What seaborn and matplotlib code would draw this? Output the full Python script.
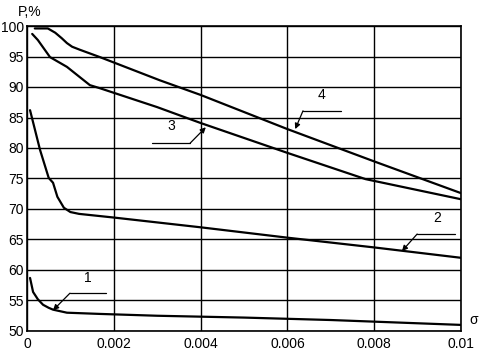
import matplotlib
matplotlib.use("Agg")
import matplotlib.pyplot as plt
import seaborn as sns
import pandas as pd

sns.set_theme(style="white")
plt.rcParams['font.family'] = ['Liberation Sans', 'DejaVu Sans']

# curve data (sigma, P%)
x1 = [0.00007, 0.00014, 0.00025, 0.00037, 0.0005, 0.0006, 0.00092, 0.00168, 0.003, 0.005, 0.007, 0.0085, 0.01]
y1 = [58.7, 56.4, 55.2, 54.3, 53.8, 53.5, 53.0, 52.8, 52.5, 52.2, 51.8, 51.4, 51.0]

x2 = [0.00007, 0.0003, 0.0005, 0.0006, 0.0007, 0.00085, 0.001, 0.0012, 0.002, 0.004, 0.006, 0.008, 0.01]
y2 = [86.2, 79.7, 75.1, 74.3, 72.0, 70.2, 69.5, 69.2, 68.6, 67.0, 65.3, 63.7, 62.0]

x3 = [0.00012, 0.00025, 0.00053, 0.00092, 0.00122, 0.00145, 0.00168, 0.003, 0.004, 0.006, 0.0078, 0.009, 0.01]
y3 = [98.7, 97.7, 94.9, 93.3, 91.6, 90.3, 89.8, 86.7, 84.1, 79.2, 74.9, 73.1, 71.6]

x4 = [0.00018, 0.00048, 0.00065, 0.0008, 0.00092, 0.00104, 0.00122, 0.00168, 0.00306, 0.004, 0.006, 0.008, 0.01]
y4 = [99.6, 99.6, 98.9, 98.0, 97.2, 96.6, 96.1, 94.9, 91.1, 88.7, 83.1, 77.8, 72.6]

curve_labels = ["1", "2", "3", "4"]
# annotation: (tip, elbow, end, label position)
ann_tip = [(0.0006, 53.4), (0.00864, 63.1), (0.00412, 83.4), (0.00618, 83.1)]
ann_elbow = [(0.00099, 56.2), (0.00899, 65.9), (0.00376, 80.8), (0.00636, 86.1)]
ann_end = [(0.00182, 56.2), (0.00986, 65.9), (0.00288, 80.8), (0.00724, 86.1)]
ann_text = [(0.0014, 57.6), (0.00945, 67.3), (0.00332, 82.5), (0.00678, 87.5)]

xticks = [0, 0.002, 0.004, 0.006, 0.008, 0.01]
xticklabels = ["0", "0.002", "0.004", "0.006", "0.008", "0.01"]
yticks = [50, 55, 60, 65, 70, 75, 80, 85, 90, 95, 100]

frames = []
for lab, xs, ys in zip(curve_labels, [x1, x2, x3, x4], [y1, y2, y3, y4]):
    frames.append(pd.DataFrame({"sigma": xs, "P": ys, "curve": lab}))
df = pd.concat(frames, ignore_index=True)

fig = plt.figure(figsize=(4.81, 3.55), dpi=100)
ax = fig.add_axes([27/481, 1 - 331/355, (461-27)/481, (331-26)/355])

sns.lineplot(data=df, x="sigma", y="P", hue="curve", palette=["black"]*4,
             linewidth=1.6, legend=False, ax=ax, sort=False, estimator=None)

ax.set_xlim(0, 0.01)
ax.set_ylim(50, 100)
ax.set_xticks(xticks)
ax.set_xticklabels(xticklabels)
ax.set_yticks(yticks)
ax.grid(True, color="black", linewidth=1.0)
ax.tick_params(axis="x", length=0, labelsize=10, colors="black", pad=4)
ax.tick_params(axis="y", length=0, labelsize=10, colors="black", pad=2)
for s in ax.spines.values():
    s.set_color("black")
    s.set_linewidth(1.2)
ax.set_xlabel("")
ax.set_ylabel("")

for tip, elbow, end, txt, lab in zip(ann_tip, ann_elbow, ann_end, ann_text, curve_labels):
    ax.plot([elbow[0], end[0]], [elbow[1], end[1]], color="black", linewidth=0.9)
    ax.annotate("", xy=tip, xytext=elbow,
                arrowprops=dict(arrowstyle="-|>", color="black", lw=0.9,
                                mutation_scale=8, shrinkA=0, shrinkB=0))
    ax.text(txt[0], txt[1], lab, fontsize=10, ha="center", va="bottom", color="black")

fig.text(30/481, 1 - 12/355, "P,%", fontsize=10, ha="center", va="center", color="black")
fig.text(474/481, 1 - 320/355, "σ", fontsize=10, ha="center", va="center", color="black")

fig.savefig("out.png", dpi=100)
